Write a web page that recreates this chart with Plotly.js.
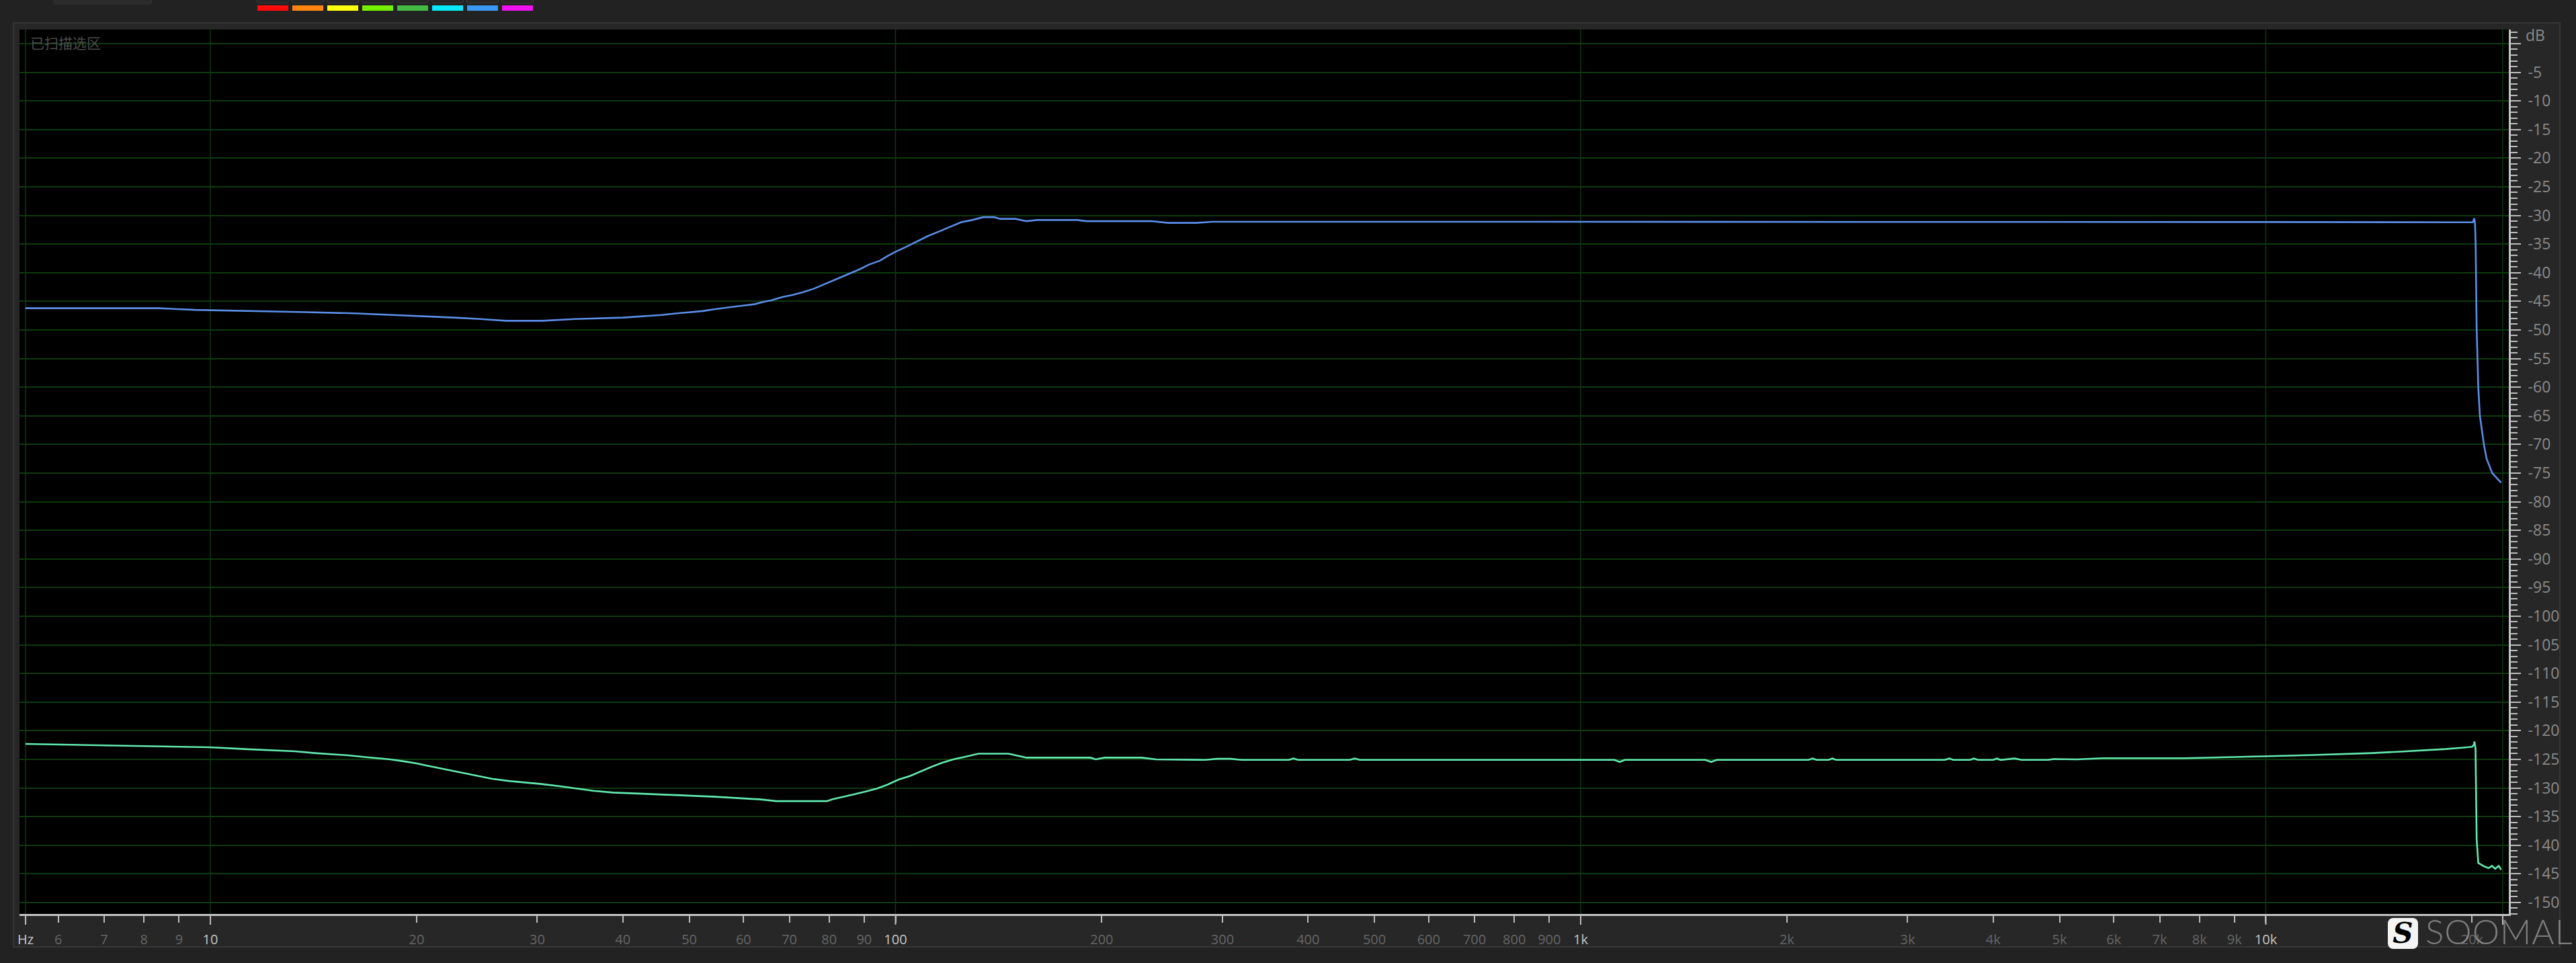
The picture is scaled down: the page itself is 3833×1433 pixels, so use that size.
<!DOCTYPE html>
<html>
<head>
<meta charset="utf-8">
<script src="https://cdn.plot.ly/plotly-3.0.1.min.js"></script>
<style>
html,body{margin:0;padding:0;background:#222222;width:3833px;height:1433px;overflow:hidden}
#frame{position:absolute;left:19px;top:33px;width:3791px;height:1377px;border:2px solid #363636;background:#272727;box-sizing:border-box}
#chart{position:absolute;left:0;top:0;width:3833px;height:1433px}
.sw{position:absolute;top:8px;height:8px;width:46px}
.btn{position:absolute;top:-8px;height:11px;width:46px;border:1px solid #3a3a3a;border-radius:4px;background:#262626}
#topleft{position:absolute;left:80px;top:-4px;width:144px;height:7px;border:1px solid #343434;background:#2a2a2a}
#topline{position:absolute;left:80px;top:6px;width:144px;height:1px;background:#303030}
#logoS{position:absolute;left:3553px;top:1366px;width:45px;height:46px;background:#f4f4f4;border-radius:8px;z-index:5;
  font-family:"DejaVu Serif",serif;font-weight:bold;font-style:italic;font-size:42px;line-height:46px;text-align:center;color:#000}
#logoT{position:absolute;left:3609px;top:1358px;z-index:5;font-family:Lato,"Open Sans",sans-serif;font-weight:300;
  font-size:51px;line-height:56px;color:rgba(160,160,160,0.72);letter-spacing:1px}
</style>
</head>
<body>
<div id="frame"></div>
<div id="topleft"></div><div id="topline"></div>
<div id="swatches"></div>
<div id="chart"></div>
<div id="logoS">S</div>
<div id="logoT">SOOMAL</div>
<script>
// ---------- data ----------
const blueFreq = [5.37, 8.4, 9.5, 11.7, 13.8, 16.2, 18.6, 20.7, 22.7, 24.8, 27, 30.5, 34, 40, 43, 45.5, 48, 50, 52.3, 54.3,
  56.3, 58.5, 60.5, 62.3, 64.1, 66.0, 67.3, 68.7, 70.7, 73.3, 76.0, 78.8, 81.8, 84.9, 88.3, 91.4, 94.9, 97.3, 99.8, 103.6,
  107.4, 111.5, 115.8, 120.2, 124.6, 129.4, 134.3, 139.1, 142.3, 149.6, 155.2, 160.9, 184.2, 190, 236, 250, 275, 290,
  1000, 5000, 10000, 19000, 20050, 20150, 20200, 20240, 20270, 20310, 20420, 20530, 20810, 21000, 21400, 22050];
const blueDb = [-46.2, -46.2, -46.5, -46.7, -46.9, -47.1, -47.4, -47.6, -47.85, -48.1, -48.4, -48.4, -48.1, -47.85, -47.6, -47.4, -47.1, -46.9, -46.7, -46.4,
  -46.2, -45.9, -45.7, -45.5, -45.1, -44.8, -44.5, -44.2, -43.9, -43.4, -42.8, -42.0, -41.2, -40.4, -39.5, -38.6, -37.9, -37.1, -36.4, -35.5,
  -34.6, -33.6, -32.8, -32.0, -31.2, -30.8, -30.3, -30.3, -30.6, -30.6, -31.0, -30.8, -30.8, -31.0, -31.0, -31.3, -31.3, -31.1,
  -31.1, -31.1, -31.15, -31.2, -31.2, -30.5, -31.5, -35, -40, -50, -60, -65, -70, -72.5, -75, -76.7];

const greenFreq = [5.37, 6.0, 7.0, 8.5, 10.0, 11.2, 12.3, 13.3, 14.2, 15.1, 15.9, 16.8, 17.6, 18.3, 19.3, 20.0, 20.7, 21.5, 22.3, 23.2,
  24.0, 24.9, 25.8, 27.4, 28.8, 30.4, 32.4, 34.4, 36.2, 38.7, 42.7, 47.8, 54.0, 59.5, 63.6, 67, 79.4, 80.8, 83.8, 87.0,
  90.5, 93.9, 97.4, 101.2, 105.0, 108.8, 112.9, 117.0, 121.4, 125.9, 132.2, 146.1, 149.6, 155.2, 192.5, 196, 202, 228.7, 240, 283,
  295, 308, 320, 375, 381, 387, 460, 468, 476, 1120, 1140, 1160, 1520, 1550, 1580, 2150, 2180, 2210, 2300, 2330,
  2360, 3400, 3450, 3500, 3700, 3750, 3800, 4000, 4050, 4100, 4300, 4400, 4800, 4900, 5300, 5780, 7620, 8400, 9140, 10100,
  11700, 13000, 14300, 15700, 17000, 18300, 19400, 20000, 20130, 20150, 20230, 20270, 20310, 20420, 20610, 20840, 21140, 21380, 21620, 21870, 22050];
const greenDb = [-122.3, -122.4, -122.5, -122.7, -122.9, -123.2, -123.4, -123.6, -123.9, -124.1, -124.3, -124.6, -124.8, -125.0, -125.4, -125.7, -126.1, -126.5, -126.9, -127.3,
  -127.7, -128.0, -128.4, -128.8, -129.0, -129.3, -129.7, -130.1, -130.5, -130.8, -131.0, -131.3, -131.5, -131.8, -132.0, -132.3, -132.3, -132.0, -131.6, -131.1,
  -130.6, -130.1, -129.4, -128.5, -127.9, -127.1, -126.3, -125.6, -125.0, -124.6, -124.0, -124.0, -124.3, -124.7, -124.7, -125.0, -124.7, -124.7, -125.0, -125.1,
  -124.9, -124.9, -125.1, -125.1, -124.85, -125.1, -125.1, -124.85, -125.1, -125.1, -125.45, -125.1, -125.1, -125.45, -125.1, -125.1, -124.85, -125.1, -125.1, -124.85,
  -125.1, -125.1, -124.85, -125.1, -125.1, -124.85, -125.1, -125.1, -124.85, -125.1, -124.85, -125.1, -125.1, -124.95, -125.0, -124.8, -124.8, -124.65, -124.55, -124.45,
  -124.25, -124.1, -123.9, -123.65, -123.45, -123.2, -122.95, -122.8, -122.4, -121.9, -123.0, -131.2, -139.0, -143.1, -143.4, -143.7, -144.0, -143.6, -144.1, -143.6, -144.3];

// axis ticks
const xTickVals = [5.374, 6, 7, 8, 9, 10, 20, 30, 40, 50, 60, 70, 80, 90, 100, 200, 300, 400, 500, 600, 700, 800, 900,
  1000, 2000, 3000, 4000, 5000, 6000, 7000, 8000, 9000, 10000, 20000, 22170];
const xTickLabels = ["Hz", "6", "7", "8", "9", "10", "20", "30", "40", "50", "60", "70", "80", "90", "100", "200", "300", "400", "500", "600", "700", "800", "900",
  "1k", "2k", "3k", "4k", "5k", "6k", "7k", "8k", "9k", "10k", "20k", ""];
const xMajorVals = [5.374, 10, 100, 1000, 10000, 22170];
const yTickVals = [];
const yTickLabels = [];
for (let v = 0; v >= -150; v -= 5) { yTickVals.push(v); yTickLabels.push(v === 0 ? "" : String(v)); }
const swatchColors = ["#ff0a0a", "#ff8410", "#ffff10", "#74f000", "#44bb44", "#08e8ff", "#3a98f4", "#f010f0"];

// ---------- swatches ----------
const sw = document.getElementById('swatches');
swatchColors.forEach((c, i) => {
  const b = document.createElement('div'); b.className = 'btn'; b.style.left = (383 + i * 52 - 1) + 'px'; sw.appendChild(b);
  const d = document.createElement('div'); d.className = 'sw'; d.style.left = (383 + i * 52) + 'px'; d.style.background = c; sw.appendChild(d);
});

// ---------- chart ----------
const brightSet = new Set(["Hz", "10", "100", "1k", "10k"]);
const xTickText = xTickLabels.map(t => brightSet.has(t) ? '<span style="color:#c6c6c6">' + t + '</span>' : t);

const plotH = 1433 - 44 - 73;
const shapes = [];
xMajorVals.forEach(v => {
  shapes.push({type: 'line', xref: 'x', yref: 'paper', x0: v, x1: v, y0: 0, y1: 1, layer: 'below',
    line: {color: '#0e3a0e', width: 1.5}});
  shapes.push({type: 'line', xref: 'x', yref: 'paper', x0: v, x1: v, y0: 0, y1: -16 / plotH, layer: 'above',
    line: {color: '#bdbdbd', width: 2}});
});

const font = '"Open Sans", "Noto Sans", "Liberation Sans", sans-serif';
const traces = [
  {x: blueFreq, y: blueDb, type: 'scatter', mode: 'lines', line: {color: '#5b8ee8', width: 2.6}, hoverinfo: 'skip'},
  {x: greenFreq, y: greenDb, type: 'scatter', mode: 'lines', line: {color: '#62eab0', width: 2.6}, hoverinfo: 'skip'}
];
const layout = {
  width: 3833, height: 1433,
  margin: {l: 29, r: 100, t: 44, b: 73, pad: 0},
  paper_bgcolor: 'rgba(0,0,0,0)',
  plot_bgcolor: '#000000',
  showlegend: false,
  xaxis: {type: 'log', range: [0.72143, 4.3546], tickmode: 'array', tickvals: xTickVals, ticktext: xTickText,
    ticks: 'outside', ticklen: 10, tickwidth: 2, tickcolor: '#bdbdbd', showgrid: false, zeroline: false,
    showline: true, linecolor: '#c4c4c4', linewidth: 3, ticklabelstandoff: 8,
    tickfont: {family: font, size: 20, color: '#666666'}, fixedrange: true},
  yaxis: {side: 'right', range: [-152.0, 2.46], tickmode: 'array', tickvals: yTickVals, ticktext: yTickLabels,
    ticks: 'outside', ticklen: 15, tickwidth: 2, tickcolor: '#bdbdbd',
    minor: {tickmode: 'linear', tick0: 0, dtick: 1, ticks: 'outside', ticklen: 10, tickwidth: 2, tickcolor: '#bdbdbd', showgrid: false},
    showgrid: true, gridcolor: '#0e3a0e', gridwidth: 2, zeroline: false,
    showline: true, linecolor: '#c4c4c4', linewidth: 3, ticklabelstandoff: 6,
    tickfont: {family: font, size: 23, color: '#8a8a8a'}, fixedrange: true},
  shapes: shapes,
  annotations: [
    {xref: 'paper', yref: 'y', x: 1, y: 0, xanchor: 'left', yanchor: 'middle', xshift: 23, yshift: 13,
      text: 'dB', showarrow: false, font: {family: font, size: 23, color: '#8a8a8a'}},
    {xref: 'paper', yref: 'paper', x: 0, y: 1, xanchor: 'left', yanchor: 'middle', xshift: 14, yshift: -19,
      text: '已扫描选区', showarrow: false, font: {family: '"Noto Sans CJK SC", sans-serif', size: 21, color: '#4c4c4c'}}
  ]
};
Plotly.newPlot('chart', traces, layout, {staticPlot: true, displayModeBar: false});
</script>
</body>
</html>
